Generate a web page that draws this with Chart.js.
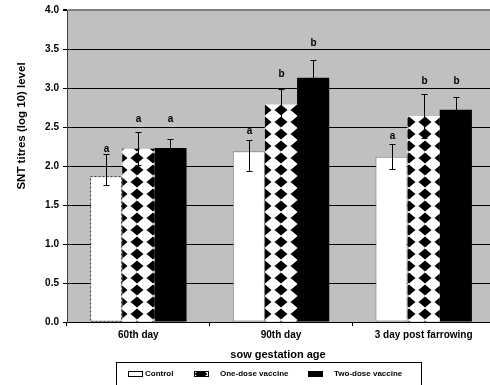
<!DOCTYPE html>
<html lang="en">
<head>
    <meta charset="UTF-8">
    <title>SNT titres by gestation age</title>
    <style>
        body { margin: 0; overflow: hidden; background: #fff; }
    </style>
</head>
<script src="https://cdn.jsdelivr.net/npm/chart.js@4.4.1/dist/chart.umd.min.js"></script>
<body>

<canvas id="myChart" width="505" height="385"></canvas>

<script>

    // data
    var categories = ["60th day", "90th day", "3 day post farrowing"];
    var seriesNames = ["Control", "One-dose vaccine", "Two-dose vaccine"];

    var controlMean = [1.87, 2.19, 2.12];
    var oneDoseMean = [2.22, 2.79, 2.64];
    var twoDoseMean = [2.23, 3.13, 2.72];

    // error bar ends
    var controlErrLow = [1.76, 1.94, 1.96];
    var controlErrHigh = [2.16, 2.33, 2.28];
    var oneDoseErrLow = [2.01, 2.58, 2.36];
    var oneDoseErrHigh = [2.43, 2.99, 2.92];
    var twoDoseErrLow = [2.12, 2.89, 2.56];
    var twoDoseErrHigh = [2.34, 3.36, 2.88];

    // significance letters and the level they sit at
    var controlLetters = ["a", "a", "a"];
    var oneDoseLetters = ["a", "b", "b"];
    var twoDoseLetters = ["a", "b", "b"];
    var controlLetterAt = [2.22, 2.45, 2.38];
    var oneDoseLetterAt = [2.60, 3.18, 3.09];
    var twoDoseLetterAt = [2.60, 3.58, 3.09];

    var yMin = 0, yMax = 4, yStep = 0.5;

    var errLow = [controlErrLow, oneDoseErrLow, twoDoseErrLow];
    var errHigh = [controlErrHigh, oneDoseErrHigh, twoDoseErrHigh];
    var letters = [controlLetters, oneDoseLetters, twoDoseLetters];
    var letterAt = [controlLetterAt, oneDoseLetterAt, twoDoseLetterAt];

    var FONT = "'Liberation Sans', Arial, sans-serif";

    var canvas = document.getElementById("myChart");
    var ctx = canvas.getContext("2d");

    // black diamonds on white, like the excel fill
    function makePattern() {
        var c = document.createElement("canvas");
        c.width = 16;
        c.height = 12;
        var p = c.getContext("2d");
        p.fillStyle = "#fff";
        p.fillRect(0, 0, 16, 12);
        p.fillStyle = "#000";
        var corners = [[0, 0], [16, 0], [0, 12], [16, 12]];
        for (var k = 0; k < corners.length; k++) {
            var cx = corners[k][0], cy = corners[k][1];
            p.beginPath();
            p.moveTo(cx - 6.5, cy);
            p.lineTo(cx, cy - 5.5);
            p.lineTo(cx + 6.5, cy);
            p.lineTo(cx, cy + 5.5);
            p.closePath();
            p.fill();
        }
        var pat = ctx.createPattern(c, "repeat");
        pat.setTransform(new DOMMatrix().translate(9, 2));
        return pat;
    }
    var diamondFill = makePattern();

    var fills = ["#fff", diamondFill, "#000"];

    var plotBg = {
        id: "plotBg",
        beforeDraw: function (chart) {
            var a = chart.chartArea;
            chart.ctx.save();
            chart.ctx.fillStyle = "#c0c0c0";
            chart.ctx.fillRect(a.left, a.top, a.right - a.left, a.bottom - a.top);
            chart.ctx.restore();
        }
    };

    var extras = {
        id: "extras",
        afterDatasetsDraw: function (chart) {
            var c = chart.ctx;
            var y = chart.scales.y;
            c.save();

            // dashed outline on the first control bar
            var first = chart.getDatasetMeta(0).data[0];
            c.strokeStyle = "#444";
            c.lineWidth = 1;
            c.setLineDash([2, 2]);
            c.strokeRect(Math.round(first.x - first.width / 2) + 0.5, Math.round(first.y) + 0.5,
                Math.round(first.width) - 1, Math.round(first.base - first.y));
            c.setLineDash([]);

            // error bars + letters
            c.strokeStyle = "#000";
            c.fillStyle = "#000";
            c.font = "bold 10px " + FONT;
            c.textAlign = "center";
            c.textBaseline = "middle";
            for (var d = 0; d < 3; d++) {
                var meta = chart.getDatasetMeta(d);
                for (var i = 0; i < meta.data.length; i++) {
                    var x = Math.round(meta.data[i].x) + 0.5;
                    var top = Math.round(y.getPixelForValue(errHigh[d][i])) + 0.5;
                    var bot = Math.round(y.getPixelForValue(errLow[d][i])) + 0.5;
                    c.beginPath();
                    c.moveTo(x, top);
                    c.lineTo(x, bot);
                    c.moveTo(x - 3, top);
                    c.lineTo(x + 3, top);
                    c.moveTo(x - 3, bot);
                    c.lineTo(x + 3, bot);
                    c.stroke();
                    c.fillText(letters[d][i], x, y.getPixelForValue(letterAt[d][i]));
                }
            }
            c.restore();
        },
        afterDraw: function (chart) {
            var c = chart.ctx;
            c.save();
            c.fillStyle = "#000";
            c.textAlign = "center";
            c.textBaseline = "middle";

            // axis titles
            c.font = "bold 11px " + FONT;
            c.fillText("sow gestation age", 278, 355);
            c.save();
            c.translate(22, 126);
            c.rotate(-Math.PI / 2);
            c.font = "bold 11.5px " + FONT;
            c.fillText("SNT titres (log 10) level", 0, 0);
            c.restore();

            // legend box
            c.strokeStyle = "#000";
            c.lineWidth = 1;
            c.strokeRect(116.5, 362.5, 305, 30);
            var iconX = [128, 194, 308];
            c.font = "bold 8px " + FONT;
            c.textAlign = "left";
            for (var d = 0; d < 3; d++) {
                c.fillStyle = chart.data.datasets[d].backgroundColor;
                c.fillRect(iconX[d], 371, 15, 6);
                c.strokeStyle = "#000";
                c.strokeRect(iconX[d] + 0.5, 371.5, 14, 5);
                c.fillStyle = "#000";
                c.fillText(chart.data.datasets[d].label, iconX[d] + (d === 0 ? 17 : 26), 374);
            }
            c.restore();
        }
    };

    var config = {
        type: "bar",
        data: {
            labels: categories,
            datasets: [{
                label: seriesNames[0],
                data: controlMean,
                backgroundColor: fills[0],
                borderColor: ["rgba(0,0,0,0)", "#808080", "#808080"],
                borderWidth: 1,
                borderSkipped: false
            }, {
                label: seriesNames[1],
                data: oneDoseMean,
                backgroundColor: fills[1],
                borderWidth: 0
            }, {
                label: seriesNames[2],
                data: twoDoseMean,
                backgroundColor: fills[2],
                borderWidth: 0
            }]
        },
        options: {
            responsive: false,
            animation: false,
            devicePixelRatio: 1,
            layout: { padding: { top: 9, right: 10, bottom: 0, left: 0 } },
            datasets: {
                bar: { categoryPercentage: 0.676, barPercentage: 1.0 }
            },
            plugins: {
                legend: { display: false },
                tooltip: { enabled: false }
            },
            scales: {
                x: {
                    afterFit: function (s) { s.height = 63; },
                    grid: { drawOnChartArea: false, drawTicks: true, tickLength: 4, color: "#000" },
                    border: { color: "#000" },
                    ticks: { color: "#000", padding: 3, maxRotation: 0, font: { family: FONT, size: 10, weight: "bold" } }
                },
                y: {
                    min: yMin,
                    max: yMax,
                    afterFit: function (s) { s.width = 67; },
                    grid: {
                        color: function (c) { return c.tick && c.tick.value === yMax ? "#808080" : "#000"; },
                        lineWidth: function (c) { return c.tick && c.tick.value === yMax ? 2 : 1; },
                        tickColor: "#000",
                        tickLength: 4
                    },
                    border: { color: "#404040" },
                    ticks: {
                        stepSize: yStep,
                        color: "#000",
                        padding: 4,
                        font: { family: FONT, size: 10, weight: "bold" },
                        callback: function (v) { return v.toFixed(1); }
                    }
                }
            }
        },
        plugins: [plotBg, extras]
    };

    new Chart(ctx, config);

</script>

</body>
</html>
